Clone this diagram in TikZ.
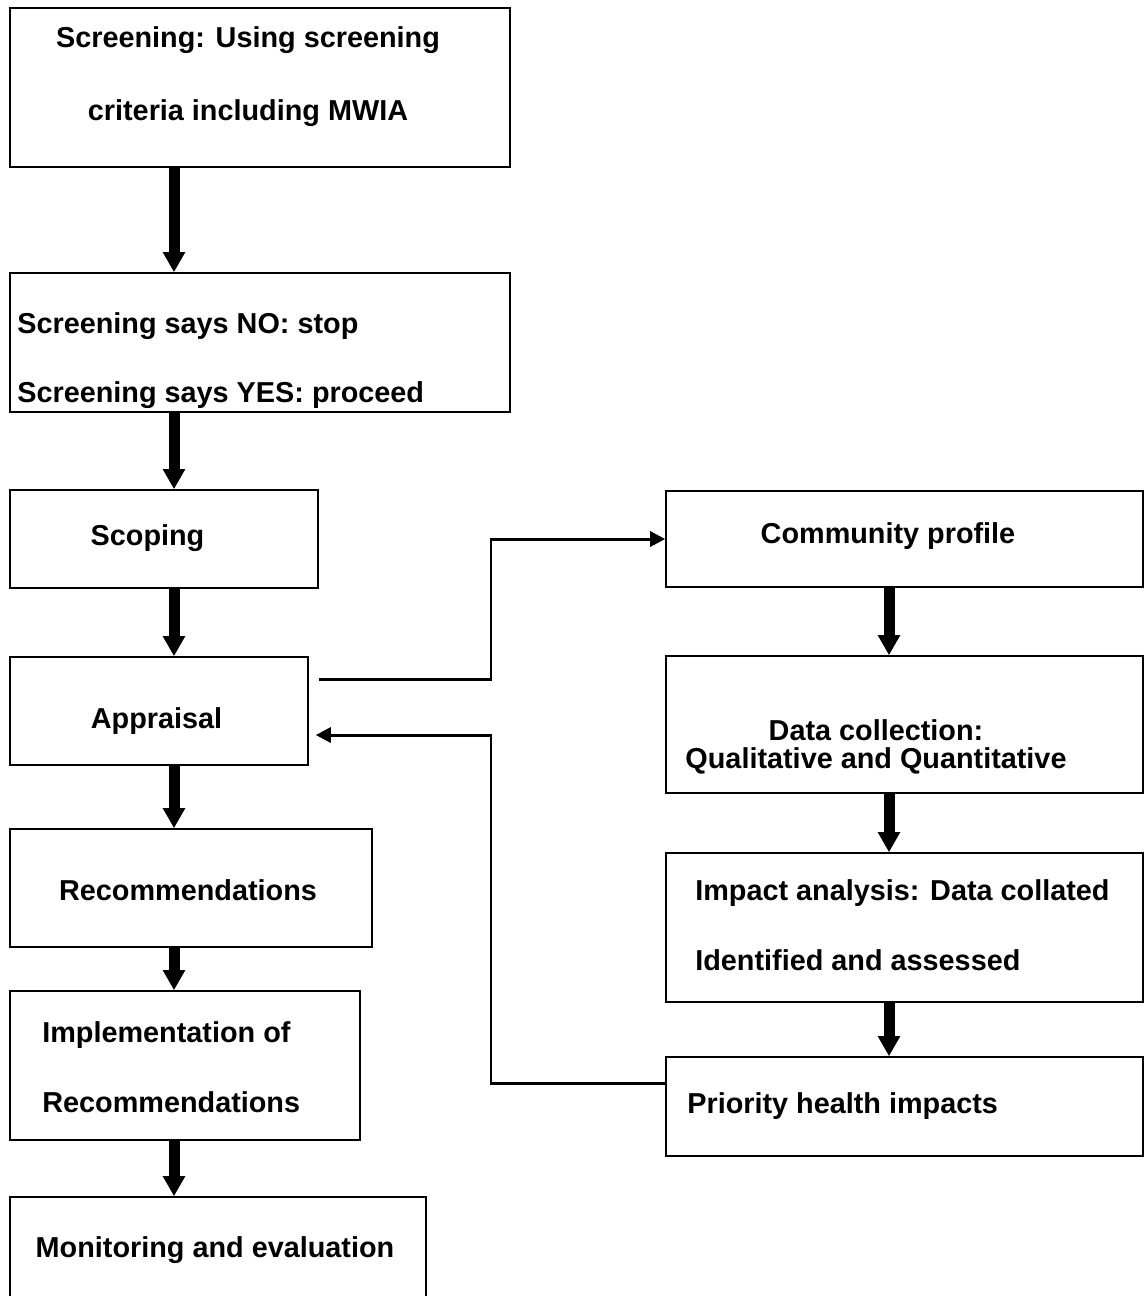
\documentclass[tikz,border=0pt]{standalone}
\usepackage{fontspec}
\setmainfont{Liberation Sans}
\usetikzlibrary{arrows.meta,fit}
\tikzset{
  stage/.style={draw, line width=0.9pt, inner sep=0pt},
  lbl/.style={font=\bfseries\fontsize{16.4}{19.7}\selectfont, inner sep=0pt},
  bigarrow/.style={line width=0.22cm, -{Triangle[width=0.42cm,length=0.4cm]}},
  link/.style={line width=1.7pt, -{Triangle[width=0.3cm,length=0.3cm]}}
}
\begin{document}
\begin{tikzpicture}[x=0.02cm, y=-0.02cm]
      \useasboundingbox (0,0) rectangle (1145,1296);
      \clip (0,0) rectangle (1145,1296);
      \coordinate (lx) at (174,0);
      \coordinate (rx) at (889,0);
      \coordinate (bend) at (491,0);
      \node[stage, fit={(10,8) (510,167)}] (screen) {};
      \node[stage, fit={(10,273) (510,412)}] (decide) {};
      \node[stage, fit={(10,490) (318,588)}] (scope) {};
      \node[stage, fit={(10,657) (308,765)}] (apprais) {};
      \node[stage, fit={(10,829) (372,947)}] (recom) {};
      \node[stage, fit={(10,991) (360,1140)}] (implem) {};
      \node[stage, fit={(10,1197) (426,1320)}] (monitor) {};
      \node[stage, fit={(666,491) (1143,587)}] (profile) {};
      \node[stage, fit={(666,656) (1143,793)}] (collect) {};
      \node[stage, fit={(666,853) (1143,1002)}] (impact) {};
      \node[stage, fit={(666,1057) (1143,1156)}] (priority) {};
      \node[lbl, align=center, anchor=base] (screen-t) at (248,120)
        {Screening: Using screening\\[21.7pt]criteria including MWIA};
      \node[lbl, align=left, anchor=base west] (decide-t) at (17,402)
        {Screening says NO: stop\\[19.4pt]Screening says YES: proceed};
      \node[lbl, anchor=base] (scope-t) at (147.5,545) {Scoping};
      \node[lbl, anchor=base] (apprais-t) at (156.5,728) {Appraisal};
      \node[lbl, anchor=base] (recom-t) at (188,900) {Recommendations};
      \node[lbl, align=left, anchor=base west] (implem-t) at (42,1112)
        {Implementation of\\[20pt]Recommendations};
      \node[lbl, anchor=base] (monitor-t) at (215,1257) {Monitoring and evaluation};
      \node[lbl, anchor=base] (profile-t) at (888,543) {Community profile};
      \node[lbl, align=center, anchor=base] (collect-t) at (876,768)
        {Data collection:\\[-3.8pt]Qualitative and Quantitative};
      \node[lbl, align=left, anchor=base west] (impact-t) at (695,970)
        {Impact analysis: Data collated\\[20pt]Identified and assessed};
      \node[lbl, anchor=base west] (priority-t) at (687,1113) {Priority health impacts};
      \begin{scope}[bigarrow]
        \draw (screen.south -| lx) -- (decide.north -| lx);
        \draw (decide.south -| lx) -- (scope.north -| lx);
        \draw (scope.south -| lx) -- (apprais.north -| lx);
        \draw (apprais.south -| lx) -- (recom.north -| lx);
        \draw (recom.south -| lx) -- (implem.north -| lx);
        \draw (implem.south -| lx) -- (monitor.north -| lx);
        \draw (profile.south -| rx) -- (collect.north -| rx);
        \draw (collect.south -| rx) -- (impact.north -| rx);
        \draw (impact.south -| rx) -- (priority.north -| rx);
      \end{scope}
      \coordinate (out) at ([shift={(10,-32)}]apprais.east);
      \coordinate (back) at ([shift={(7,24)}]apprais.east);
      \begin{scope}[link]
        \draw (out) -| (bend |- profile.west) -- (profile.west);
        \draw ([shift={(0,-23.5)}]priority.west) -| (bend |- back) -- (back);
      \end{scope}
    \end{tikzpicture}
\end{document}
